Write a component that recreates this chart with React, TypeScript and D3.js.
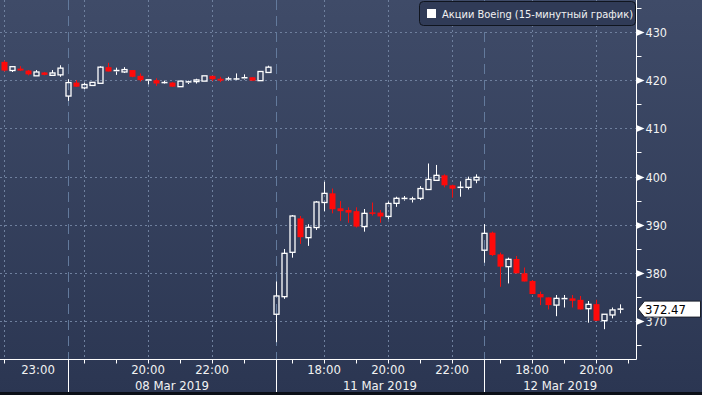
import React, { useLayoutEffect } from 'react';
import * as d3 from 'd3';

const W = 702;
const H = 395;

// Sessions (Moscow time, 15-minute candles)
const sessionDates = ['07 Mar 2019', '08 Mar 2019', '11 Mar 2019', '12 Mar 2019'];
const sessionStarts = ['22:00', '17:30', '16:30', '16:30'];
const sessionCounts = [8, 26, 26, 18];
const sessionAxisSlots = [8, 26, 26, 19];

const opens = [
  423.8, 422.0, 422.4, 422.0, 420.9, 421.6, 421.0, 421.1,
  416.7, 419.5, 418.4, 418.9, 419.35, 422.7, 421.9, 421.7, 422.1, 420.9, 420.0, 420.0, 419.45, 419.5, 418.65, 419.6, 419.7, 419.8, 420.9, 420.3, 420.2, 420.2, 420.2, 420.6, 419.9, 421.6,
  371.4, 375.05, 384.26, 391.3, 387.3, 389.4, 394.6, 396.5, 393.4, 393.05, 392.8, 389.6, 392.55, 392.5, 391.7, 394.43, 395.4, 395.3, 395.47, 397.3, 399.2, 400.24, 398.17, 397.5, 397.75, 399.27,
  384.7, 388.34, 383.84, 381.28, 382.87, 379.9, 378.3, 375.6, 374.9, 373.3, 374.6, 374.7, 374.4, 372.56, 373.5, 370.07, 371.25, 372.4,
];
const highs = [
  424.1, 422.9, 422.9, 422.1, 422.1, 421.7, 422.1, 423.1,
  420.2, 420.0, 419.5, 419.6, 422.9, 423.6, 422.6, 422.7, 422.1, 421.4, 420.05, 420.4, 419.9, 419.6, 419.8, 419.9, 420.3, 420.9, 420.9, 420.7, 420.7, 421.4, 421.2, 420.6, 421.8, 423.0,
  378.2, 384.95, 392.0, 391.8, 390.1, 394.9, 398.9, 397.5, 394.9, 393.6, 393.6, 393.25, 394.6, 393.05, 394.8, 395.8, 395.95, 395.8, 398.0, 402.7, 402.4, 400.45, 398.3, 399.0, 399.97, 400.45,
  390.1, 388.55, 384.2, 383.15, 383.5, 381.1, 378.5, 376.1, 374.9, 375.4, 375.4, 375.4, 375.2, 374.15, 374.4, 371.4, 372.8, 373.46,
];
const lows = [
  421.8, 421.7, 421.9, 421.0, 420.9, 421.0, 421.0, 420.7,
  415.7, 418.6, 418.1, 418.8, 419.3, 421.8, 421.1, 421.5, 420.6, 419.7, 419.1, 418.8, 419.4, 418.6, 418.6, 419.2, 419.3, 419.8, 419.8, 419.6, 419.9, 420.2, 420.1, 419.9, 419.9, 421.6,
  365.6, 374.6, 383.15, 386.0, 385.6, 388.9, 392.8, 392.35, 390.8, 390.4, 389.4, 388.55, 391.9, 390.4, 391.1, 393.7, 395.0, 394.6, 395.1, 397.2, 399.2, 397.75, 395.6, 395.8, 397.3, 398.6,
  382.1, 383.5, 377.1, 377.8, 379.9, 378.2, 375.6, 373.3, 372.4, 371.0, 372.8, 372.8, 372.4, 369.65, 370.0, 368.3, 370.55, 371.6,
];
const closes = [
  422.0, 422.8, 422.0, 421.2, 421.7, 421.1, 421.5, 422.5,
  419.5, 418.65, 419.1, 419.55, 422.7, 421.8, 422.0, 422.2, 420.7, 420.0, 420.05, 419.3, 419.5, 418.65, 419.8, 419.65, 420.05, 420.9, 420.2, 419.9, 420.25, 420.25, 420.5, 419.9, 421.8, 422.7,
  375.2, 384.05, 391.8, 387.4, 389.45, 394.7, 396.5, 393.2, 392.8, 392.5, 389.6, 392.35, 392.4, 391.7, 394.4, 395.47, 395.45, 395.35, 397.5, 399.4, 400.24, 398.17, 397.47, 397.75, 399.4, 399.83,
  388.2, 383.7, 381.28, 382.8, 379.9, 378.2, 375.6, 374.9, 373.3, 374.7, 374.65, 374.2, 372.4, 373.46, 370.07, 371.4, 372.3, 372.47,
];

const priceTicks = [370, 380, 390, 400, 410, 420, 430];
const minorPriceTicks = [365, 375, 385, 395, 405, 415, 425, 435];
const lastPrice = 372.47;
const legendLabel = 'Акции Boeing (15-минутный график)';
const timeLabels = ['23:00', '20:00', '22:00', '18:00', '20:00', '22:00', '18:00', '20:00'];
const timeLabelSessions = [0, 1, 1, 2, 2, 2, 3, 3];

const FONT = "'DejaVu Sans Condensed', 'DejaVu Sans', sans-serif";

const toMin = (s: string) => {
  const [h, m] = s.split(':').map(Number);
  return h * 60 + m;
};
const fmt = (m: number) => {
  const mm = ((m % 1440) + 1440) % 1440;
  return `${String(Math.floor(mm / 60)).padStart(2, '0')}:${String(mm % 60).padStart(2, '0')}`;
};

export default function App() {
  useLayoutEffect(() => {
    document.body.style.margin = '0';
  }, []);

  const axisX = 636.5;
  const axisY = 359.5;

  const total = opens.length;
  const x = d3.scaleLinear().domain([0, total - 1]).range([4, 620]);
  const y = d3.scaleLinear().domain([370, 430]).range([321, 32]);

  type Slot = { idx: number; session: number; minute: number; k: number };
  const slots: Slot[] = [];
  let idx = 0;
  sessionAxisSlots.forEach((n, s) => {
    const st = toMin(sessionStarts[s]);
    for (let k = 0; k < n; k++) {
      slots.push({ idx: idx + k, session: s, minute: st + 15 * k, k });
    }
    idx += sessionCounts[s];
  });
  const sessionFirstIdx = sessionCounts.map((_, s) => d3.sum(sessionCounts.slice(0, s)));

  const hourTicks = slots.filter((s) => s.minute % 60 === 0 && !(s.session === 0 && s.k > 0));
  const gridSlots = slots.filter((s) => s.minute % 120 === 0);
  const labelPos = timeLabels.map((t, i) => {
    const sl = slots.find((s) => s.session === timeLabelSessions[i] && fmt(s.minute) === t);
    return sl ? x(sl.idx) : 0;
  });

  const sessionSpans = sessionDates.map((d, s) => {
    const a = s === 0 ? 0 : x(sessionFirstIdx[s]);
    const b = s + 1 < sessionDates.length ? x(sessionFirstIdx[s + 1]) : axisX;
    return { d, a, b };
  });

  const candles = d3.range(total).map((i) => ({
    i,
    o: opens[i],
    h: highs[i],
    l: lows[i],
    c: closes[i],
  }));

  const ly = y(lastPrice);

  return (
    <div style={{ position: 'absolute', left: 0, top: 0 }}>
      <svg width={W} height={H} style={{ display: 'block' }} fontFamily={FONT}>
        <defs>
          <linearGradient id="bg" x1="0" y1="0" x2="0" y2="1">
            <stop offset="0" stopColor="#3f4b68" />
            <stop offset="1" stopColor="#2b3652" />
          </linearGradient>
        </defs>
        <rect x={0} y={0} width={W} height={H} fill="url(#bg)" />

        {priceTicks.map((v) => (
          <line key={'hg' + v} x1={0} x2={axisX} y1={Math.round(y(v)) + 0.5} y2={Math.round(y(v)) + 0.5}
            stroke="#6f809e" strokeWidth={1} strokeDasharray="2,3" />
        ))}
        {gridSlots.map((s) => (
          <line key={'vg' + s.idx} x1={Math.round(x(s.idx)) + 0.5} x2={Math.round(x(s.idx)) + 0.5} y1={0} y2={axisY}
            stroke="#6f809e" strokeWidth={1} strokeDasharray="2,3" />
        ))}
        {sessionFirstIdx.slice(1).map((i) => (
          <g key={'sep' + i}>
            <line x1={Math.round(x(i)) + 0.5} x2={Math.round(x(i)) + 0.5} y1={0} y2={axisY}
              stroke="#637a9c" strokeWidth={1} strokeDasharray="10,6" />
            <line x1={Math.round(x(i)) + 0.5} x2={Math.round(x(i)) + 0.5} y1={axisY} y2={H - 2}
              stroke="#ffffff" strokeWidth={1} />
          </g>
        ))}

        {candles.map((d) => {
          const cx = Math.round(x(d.i)) + 0.5;
          const bull = d.c >= d.o;
          const top = y(Math.max(d.o, d.c));
          const bot = y(Math.min(d.o, d.c));
          const hgt = Math.max(bot - top, 1);
          if (bull) {
            return (
              <g key={'c' + d.i}>
                <line x1={cx} x2={cx} y1={y(d.h)} y2={top} stroke="#fff" strokeWidth={1} />
                <line x1={cx} x2={cx} y1={top + hgt} y2={y(d.l)} stroke="#fff" strokeWidth={1} />
                {hgt > 1.5 ? (
                  <rect x={cx - 2.5} y={top} width={5} height={hgt} fill="none" stroke="#fff" strokeWidth={1.3} />
                ) : (
                  <line x1={cx - 3} x2={cx + 3} y1={top} y2={top} stroke="#fff" strokeWidth={1.5} />
                )}
              </g>
            );
          }
          return (
            <g key={'c' + d.i}>
              <line x1={cx} x2={cx} y1={y(d.h)} y2={y(d.l)} stroke="#f01010" strokeWidth={1} />
              <rect x={cx - 3} y={top} width={6} height={Math.max(hgt, 1.5)} fill="#ff0a0a" />
            </g>
          );
        })}

        <line x1={axisX} x2={axisX} y1={0} y2={axisY} stroke="#fff" strokeWidth={1} />
        <line x1={0} x2={axisX} y1={axisY} y2={axisY} stroke="#fff" strokeWidth={1} />

        {minorPriceTicks.map((v) => (
          <line key={'mt' + v} x1={axisX} x2={axisX + 5} y1={Math.round(y(v)) + 0.5} y2={Math.round(y(v)) + 0.5}
            stroke="#fff" strokeWidth={1} />
        ))}
        {priceTicks.map((v) => {
          const yy = Math.round(y(v)) + 0.5;
          return (
            <g key={'pt' + v}>
              <path d={`M${axisX},${yy - 3.5}L${axisX + 8},${yy}L${axisX},${yy + 3.5}Z`} fill="#fff" />
              <text x={645.5} y={yy + 4.5} fill="#f2f2f2" fontSize={12.5}>{v}</text>
            </g>
          );
        })}

        {hourTicks.map((s) => (
          <line key={'ht' + s.idx} x1={Math.round(x(s.idx)) + 0.5} x2={Math.round(x(s.idx)) + 0.5}
            y1={axisY} y2={axisY + 4} stroke="#fff" strokeWidth={1} />
        ))}
        {timeLabels.map((t, i) => (
          <text key={'tl' + i} x={labelPos[i] + (timeLabelSessions[i] === 0 ? 2 : 0)} y={374} fill="#f2f2f2"
            fontSize={13} textAnchor="middle">{t}</text>
        ))}
        {sessionSpans.slice(1).map((s) => (
          <text key={'sd' + s.d} x={(s.a + s.b) / 2} y={390} fill="#f2f2f2" fontSize={13} textAnchor="middle">
            {s.d}
          </text>
        ))}

        <path d={`M${axisX + 1.5},${ly}L${axisX + 8},${ly - 8}L${W - 1.5},${ly - 8}L${W - 1.5},${ly + 8}L${axisX + 8},${ly + 8}Z`}
          fill="#fff" stroke="#1a1f2a" strokeWidth={1} />
        <text x={645} y={ly + 5} fill="#000" fontSize={13}>{lastPrice.toFixed(2)}</text>

        <rect x={419.5} y={1.5} width={216} height={24} rx={4} fill="#303b57" stroke="#10151f" strokeWidth={1} />
        <rect x={427} y={9} width={9} height={9} fill="#fff" />
        <text x={442} y={18} fill="#f2f2f2" fontSize={11}>{legendLabel}</text>

        <line x1={0} x2={W} y1={H - 1.5} y2={H - 1.5} stroke="#0c1018" strokeWidth={3} />
      </svg>
    </div>
  );
}
